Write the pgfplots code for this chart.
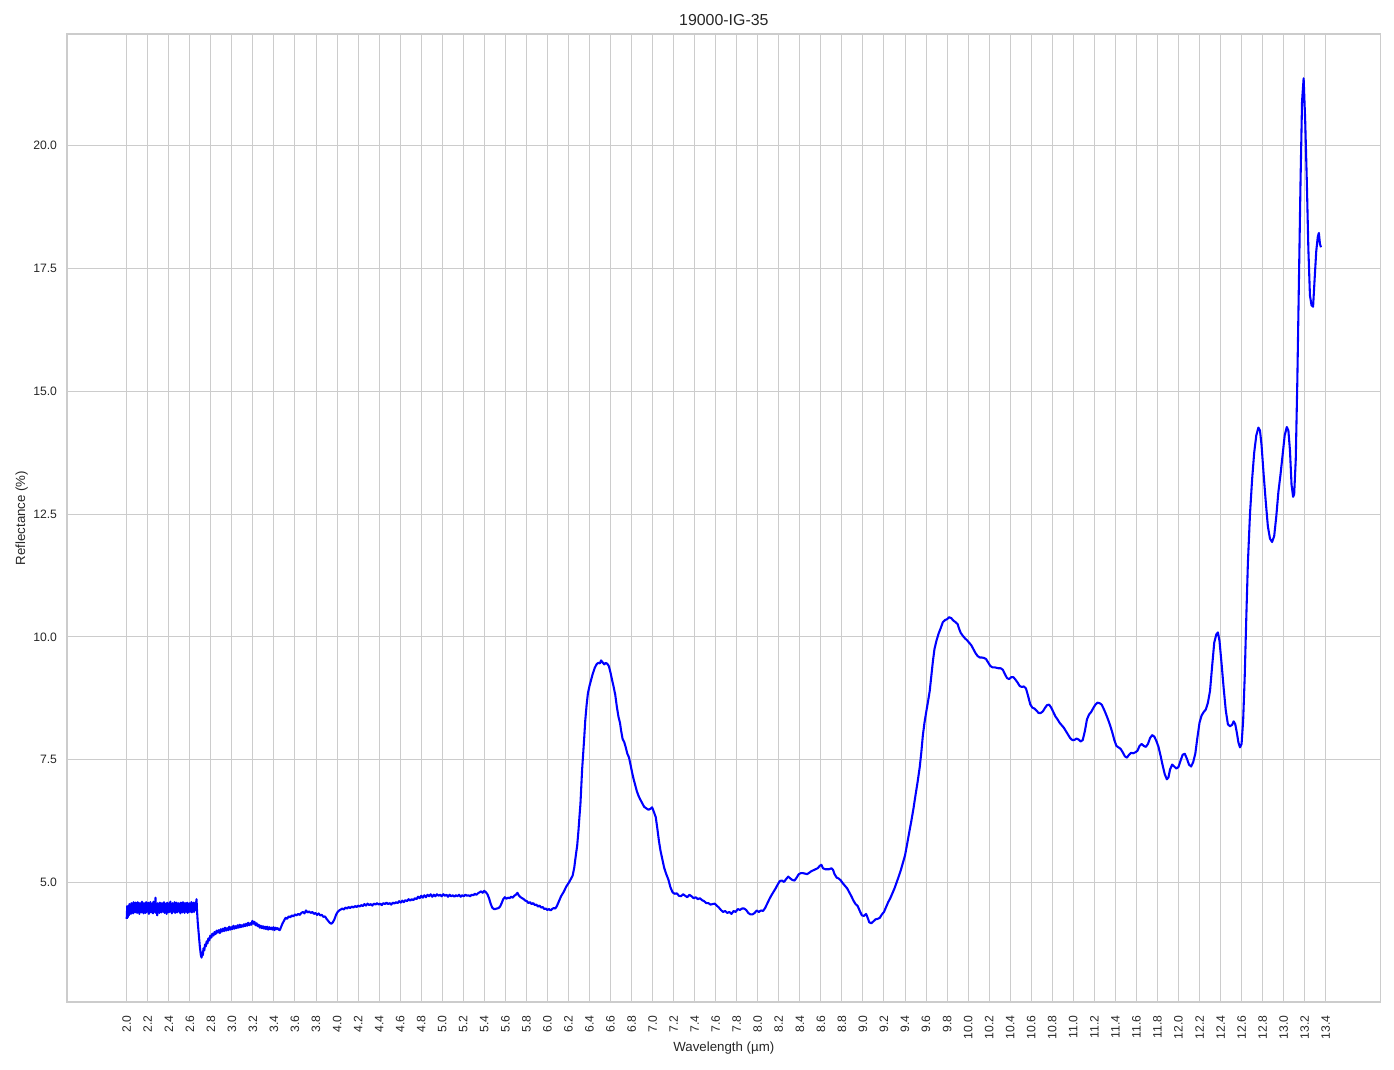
\documentclass[border=0pt]{standalone}
\usepackage{pgfplots}
\pgfplotsset{compat=1.18}
\usepackage{fontspec}
\setmainfont{Liberation Sans}
\definecolor{gridc}{HTML}{CCCCCC}
\definecolor{txt}{HTML}{262626}
\begin{document}
\begin{tikzpicture}
\begin{axis}[
  name=ax,
  scale only axis,
  width=949.4pt, height=699.6pt,
  xmin=1.432, xmax=13.923, ymin=2.565, ymax=22.27,
  axis line style={draw=gridc, line width=1pt},
  grid=major,
  major grid style={draw=gridc, line width=0.72pt},
  major tick length=0pt,
  tick style={draw=none},
  xtick={2.0,2.2,2.4,2.6,2.8,3.0,3.2,3.4,3.6,3.8,4.0,4.2,4.4,4.6,4.8,5.0,5.2,5.4,5.6,5.8,6.0,6.2,6.4,6.6,6.8,7.0,7.2,7.4,7.6,7.8,8.0,8.2,8.4,8.6,8.8,9.0,9.2,9.4,9.6,9.8,10.0,10.2,10.4,10.6,10.8,11.0,11.2,11.4,11.6,11.8,12.0,12.2,12.4,12.6,12.8,13.0,13.2,13.4},
  ytick={5,7.5,10,12.5,15,17.5,20},
  /pgf/number format/assume math mode=true,
  /pgf/number format/fixed,
  /pgf/number format/fixed zerofill,
  /pgf/number format/precision=1,
  ticklabel style={font=\fontsize{8.8}{10}\selectfont, text=txt, inner sep=0pt},
  xticklabel style={rotate=90, anchor=east},
  xticklabel shift=9.5pt,
  yticklabel shift=7pt,
  title={19000-IG-35},
  title style={at={(axis description cs:0.5,1.0)}, anchor=base, inner sep=0pt, font=\fontsize{11.5}{13}\selectfont, text=txt},
  xlabel={Wavelength (µm)},
  xlabel style={at={(axis description cs:0.5,-0.0472)}, anchor=center, inner sep=0pt, font=\fontsize{9.6}{11}\selectfont, text=txt},
  ylabel={Reflectance (\%)},
  ylabel style={at={(axis description cs:-0.0345,0.5)}, anchor=center, rotate=0, inner sep=0pt, font=\fontsize{9.6}{11}\selectfont, text=txt},
]
\addplot[color={rgb,255:red,0;green,0;blue,255}, line width=1.5pt, line join=round, mark=none] table {
x y
2.000 4.26
2.005 4.52
2.010 4.29
2.015 4.50
2.020 4.33
2.025 4.56
2.030 4.38
2.035 4.54
2.040 4.36
2.045 4.58
2.050 4.40
2.055 4.55
2.060 4.37
2.065 4.60
2.070 4.41
2.075 4.56
2.080 4.39
2.085 4.59
2.090 4.42
2.095 4.55
2.100 4.38
2.105 4.60
2.110 4.40
2.115 4.57
2.120 4.36
2.125 4.58
2.130 4.43
2.135 4.56
2.140 4.39
2.145 4.61
2.150 4.41
2.155 4.55
2.160 4.37
2.165 4.58
2.170 4.42
2.175 4.57
2.180 4.38
2.185 4.60
2.190 4.40
2.195 4.56
2.200 4.43
2.205 4.59
2.210 4.36
2.215 4.57
2.220 4.41
2.225 4.60
2.230 4.39
2.235 4.55
2.240 4.42
2.245 4.58
2.250 4.37
2.255 4.61
2.260 4.40
2.265 4.57
2.270 4.45
2.274 4.69
2.278 4.38
2.285 4.56
2.290 4.33
2.295 4.58
2.300 4.41
2.305 4.55
2.310 4.38
2.315 4.59
2.320 4.42
2.325 4.56
2.330 4.39
2.335 4.58
2.340 4.43
2.345 4.55
2.350 4.40
2.355 4.60
2.360 4.38
2.365 4.56
2.370 4.42
2.375 4.57
2.380 4.36
2.385 4.59
2.390 4.41
2.395 4.55
2.400 4.39
2.405 4.58
2.410 4.43
2.415 4.61
2.420 4.40
2.425 4.56
2.430 4.37
2.435 4.58
2.440 4.42
2.445 4.55
2.450 4.40
2.455 4.60
2.460 4.38
2.465 4.57
2.470 4.42
2.475 4.59
2.480 4.39
2.485 4.56
2.490 4.43
2.495 4.58
2.500 4.40
2.505 4.55
2.510 4.37
2.515 4.59
2.520 4.42
2.525 4.57
2.530 4.39
2.535 4.60
2.540 4.41
2.545 4.56
2.550 4.38
2.555 4.58
2.560 4.43
2.565 4.55
2.570 4.40
2.575 4.59
2.580 4.38
2.585 4.56
2.590 4.42
2.595 4.58
2.600 4.40
2.605 4.55
2.610 4.43
2.615 4.60
2.620 4.39
2.625 4.57
2.630 4.42
2.635 4.59
2.640 4.40
2.645 4.56
2.650 4.43
2.655 4.60
2.660 4.45
2.664 4.66
2.668 4.45
2.675 4.20
2.685 3.95
2.695 3.70
2.705 3.52
2.712 3.47
2.718 3.58
2.724 3.52
2.730 3.66
2.738 3.62
2.745 3.74
2.752 3.70
2.760 3.80
2.768 3.76
2.776 3.86
2.785 3.82
2.795 3.92
2.805 3.88
2.815 3.96
2.825 3.92
2.835 3.99
2.845 3.95
2.855 4.02
2.865 3.98
2.875 4.03
2.885 3.97
2.895 4.05
2.905 4.00
2.915 4.06
2.925 4.01
2.935 4.08
2.945 4.02
2.955 4.07
2.965 4.03
2.975 4.10
2.985 4.04
2.995 4.09
3.005 4.05
3.015 4.12
3.025 4.06
3.035 4.11
3.045 4.07
3.055 4.13
3.065 4.08
3.075 4.14
3.085 4.09
3.095 4.13
3.105 4.10
3.115 4.15
3.125 4.11
3.135 4.16
3.145 4.12
3.155 4.18
3.165 4.13
3.175 4.17
3.185 4.14
3.195 4.22
3.205 4.16
3.215 4.20
3.225 4.13
3.235 4.17
3.245 4.11
3.255 4.14
3.265 4.08
3.275 4.12
3.285 4.07
3.295 4.11
3.305 4.06
3.315 4.10
3.325 4.05
3.335 4.10
3.345 4.04
3.355 4.09
3.365 4.05
3.375 4.08
3.385 4.04
3.395 4.09
3.405 4.03
3.415 4.08
3.425 4.05
3.435 4.07
3.445 4.04
3.455 4.03
3.465 4.08
3.480 4.16
3.495 4.22
3.510 4.28
3.525 4.26
3.540 4.31
3.555 4.29
3.570 4.33
3.585 4.31
3.600 4.35
3.615 4.33
3.630 4.36
3.645 4.34
3.660 4.38
3.675 4.40
3.690 4.37
3.705 4.43
3.720 4.39
3.735 4.41
3.750 4.38
3.765 4.40
3.780 4.36
3.795 4.38
3.810 4.34
3.825 4.37
3.840 4.33
3.855 4.34
3.870 4.30
3.885 4.31
3.900 4.26
3.915 4.22
3.930 4.18
3.945 4.16
3.960 4.19
3.975 4.25
3.990 4.34
4.005 4.40
4.020 4.43
4.035 4.45
4.050 4.47
4.065 4.45
4.080 4.49
4.095 4.47
4.110 4.50
4.125 4.48
4.140 4.51
4.155 4.49
4.170 4.52
4.185 4.50
4.200 4.53
4.215 4.51
4.230 4.54
4.245 4.52
4.260 4.56
4.275 4.53
4.290 4.57
4.305 4.54
4.320 4.56
4.335 4.53
4.350 4.57
4.365 4.55
4.380 4.58
4.395 4.55
4.410 4.57
4.425 4.54
4.440 4.58
4.455 4.56
4.470 4.59
4.485 4.56
4.500 4.58
4.515 4.55
4.530 4.59
4.545 4.57
4.560 4.60
4.575 4.58
4.590 4.62
4.605 4.59
4.620 4.63
4.635 4.60
4.650 4.64
4.665 4.62
4.680 4.66
4.695 4.63
4.710 4.66
4.725 4.64
4.740 4.68
4.755 4.66
4.770 4.71
4.785 4.68
4.800 4.73
4.815 4.69
4.830 4.74
4.845 4.70
4.860 4.75
4.875 4.72
4.890 4.76
4.905 4.71
4.920 4.75
4.935 4.72
4.950 4.76
4.965 4.73
4.980 4.75
4.995 4.72
5.010 4.76
5.025 4.73
5.040 4.75
5.055 4.71
5.070 4.75
5.085 4.72
5.100 4.74
5.115 4.71
5.130 4.74
5.145 4.72
5.160 4.75
5.175 4.71
5.190 4.74
5.205 4.72
5.220 4.75
5.235 4.73
5.250 4.74
5.265 4.72
5.280 4.75
5.295 4.74
5.310 4.77
5.325 4.75
5.340 4.78
5.355 4.80
5.370 4.82
5.385 4.79
5.400 4.83
5.415 4.80
5.430 4.76
5.445 4.68
5.460 4.57
5.475 4.49
5.490 4.46
5.505 4.46
5.520 4.47
5.535 4.48
5.550 4.51
5.565 4.58
5.580 4.66
5.595 4.70
5.610 4.67
5.625 4.69
5.640 4.68
5.655 4.71
5.670 4.69
5.685 4.73
5.700 4.75
5.715 4.79
5.730 4.73
5.745 4.70
5.760 4.68
5.775 4.66
5.790 4.63
5.805 4.62
5.820 4.58
5.835 4.60
5.850 4.56
5.865 4.58
5.880 4.54
5.895 4.55
5.910 4.51
5.925 4.53
5.940 4.49
5.955 4.50
5.970 4.46
5.985 4.47
6.000 4.44
6.015 4.46
6.030 4.43
6.045 4.46
6.060 4.48
6.075 4.47
6.090 4.52
6.110 4.62
6.130 4.72
6.155 4.81
6.180 4.92
6.205 5.00
6.225 5.08
6.240 5.14
6.255 5.30
6.270 5.55
6.283 5.75
6.295 6.05
6.305 6.35
6.314 6.60
6.322 6.95
6.330 7.30
6.340 7.62
6.350 7.95
6.360 8.30
6.372 8.60
6.385 8.85
6.400 9.00
6.415 9.12
6.430 9.24
6.450 9.37
6.470 9.45
6.485 9.47
6.500 9.46
6.510 9.52
6.525 9.48
6.540 9.44
6.555 9.47
6.570 9.45
6.585 9.40
6.600 9.27
6.615 9.12
6.630 8.98
6.645 8.82
6.660 8.58
6.675 8.38
6.690 8.25
6.700 8.10
6.715 7.92
6.730 7.86
6.745 7.75
6.760 7.62
6.775 7.55
6.790 7.40
6.805 7.24
6.820 7.10
6.835 6.98
6.850 6.86
6.865 6.77
6.880 6.70
6.900 6.62
6.920 6.54
6.940 6.51
6.960 6.48
6.980 6.50
6.995 6.53
7.010 6.45
7.030 6.33
7.045 6.10
7.060 5.85
7.075 5.65
7.090 5.50
7.110 5.30
7.130 5.17
7.150 5.06
7.170 4.90
7.190 4.80
7.210 4.77
7.230 4.78
7.250 4.73
7.270 4.72
7.290 4.76
7.310 4.73
7.330 4.70
7.350 4.75
7.370 4.72
7.390 4.68
7.410 4.70
7.430 4.66
7.450 4.68
7.470 4.64
7.490 4.62
7.510 4.58
7.530 4.58
7.550 4.55
7.570 4.56
7.590 4.57
7.610 4.53
7.630 4.49
7.650 4.44
7.670 4.40
7.690 4.42
7.710 4.38
7.730 4.40
7.750 4.36
7.770 4.42
7.790 4.40
7.810 4.46
7.830 4.44
7.850 4.47
7.870 4.47
7.890 4.44
7.910 4.38
7.930 4.35
7.950 4.35
7.970 4.38
7.990 4.43
8.010 4.40
8.030 4.43
8.050 4.42
8.070 4.48
8.090 4.57
8.110 4.66
8.130 4.74
8.150 4.81
8.170 4.88
8.190 4.96
8.210 5.03
8.230 5.04
8.250 5.01
8.270 5.07
8.290 5.12
8.310 5.08
8.330 5.05
8.350 5.04
8.370 5.10
8.390 5.17
8.410 5.19
8.430 5.19
8.450 5.18
8.470 5.17
8.490 5.20
8.510 5.23
8.530 5.25
8.550 5.27
8.570 5.29
8.590 5.34
8.605 5.36
8.620 5.29
8.640 5.27
8.660 5.27
8.680 5.27
8.700 5.29
8.715 5.26
8.730 5.17
8.750 5.10
8.770 5.08
8.790 5.04
8.810 4.98
8.830 4.93
8.850 4.88
8.870 4.80
8.890 4.72
8.910 4.63
8.930 4.56
8.950 4.52
8.970 4.42
8.990 4.33
9.010 4.32
9.030 4.36
9.045 4.28
9.060 4.19
9.080 4.17
9.100 4.21
9.120 4.25
9.140 4.26
9.160 4.28
9.180 4.35
9.200 4.40
9.220 4.50
9.240 4.60
9.260 4.68
9.280 4.78
9.300 4.88
9.320 5.00
9.340 5.12
9.360 5.25
9.380 5.40
9.400 5.55
9.420 5.78
9.440 6.02
9.460 6.25
9.480 6.50
9.500 6.78
9.520 7.05
9.540 7.35
9.555 7.65
9.570 8.00
9.585 8.25
9.600 8.45
9.620 8.70
9.635 8.90
9.650 9.20
9.665 9.50
9.680 9.75
9.700 9.93
9.720 10.07
9.740 10.18
9.760 10.30
9.780 10.34
9.800 10.36
9.820 10.40
9.840 10.38
9.860 10.33
9.880 10.30
9.900 10.26
9.915 10.16
9.930 10.08
9.950 10.02
9.970 9.97
9.990 9.93
10.010 9.88
10.030 9.83
10.050 9.75
10.070 9.67
10.090 9.61
10.110 9.58
10.130 9.58
10.150 9.57
10.170 9.55
10.190 9.48
10.210 9.41
10.230 9.38
10.250 9.38
10.270 9.37
10.290 9.36
10.310 9.36
10.330 9.33
10.350 9.24
10.370 9.16
10.390 9.14
10.410 9.18
10.430 9.18
10.450 9.13
10.470 9.07
10.490 9.00
10.510 8.98
10.530 8.99
10.550 8.95
10.570 8.80
10.590 8.63
10.610 8.56
10.630 8.54
10.650 8.50
10.670 8.45
10.690 8.45
10.710 8.48
10.730 8.55
10.750 8.61
10.770 8.62
10.790 8.56
10.810 8.47
10.830 8.38
10.850 8.32
10.870 8.25
10.890 8.20
10.910 8.15
10.930 8.08
10.950 8.01
10.970 7.94
10.990 7.90
11.010 7.90
11.030 7.93
11.050 7.91
11.070 7.87
11.090 7.90
11.110 8.08
11.130 8.32
11.150 8.42
11.170 8.47
11.190 8.55
11.210 8.62
11.230 8.66
11.250 8.65
11.270 8.62
11.290 8.53
11.310 8.43
11.330 8.32
11.350 8.20
11.370 8.06
11.390 7.90
11.410 7.78
11.430 7.75
11.450 7.72
11.470 7.65
11.490 7.57
11.510 7.54
11.530 7.60
11.550 7.64
11.570 7.63
11.590 7.65
11.610 7.68
11.630 7.78
11.650 7.82
11.670 7.78
11.690 7.76
11.710 7.82
11.730 7.94
11.750 8.00
11.770 7.97
11.790 7.88
11.810 7.76
11.830 7.58
11.850 7.38
11.870 7.20
11.890 7.10
11.905 7.14
11.920 7.30
11.940 7.40
11.960 7.36
11.980 7.32
12.000 7.35
12.020 7.48
12.040 7.60
12.060 7.62
12.080 7.52
12.100 7.40
12.120 7.36
12.140 7.45
12.160 7.62
12.180 7.95
12.200 8.25
12.220 8.40
12.240 8.47
12.260 8.52
12.280 8.66
12.300 8.90
12.320 9.40
12.340 9.88
12.360 10.05
12.375 10.09
12.390 9.92
12.410 9.45
12.430 8.95
12.450 8.50
12.470 8.22
12.490 8.18
12.510 8.21
12.525 8.28
12.540 8.22
12.555 8.05
12.570 7.85
12.585 7.75
12.600 7.82
12.615 8.30
12.630 9.20
12.645 10.40
12.660 11.50
12.680 12.50
12.700 13.20
12.720 13.75
12.740 14.10
12.760 14.26
12.775 14.20
12.790 13.90
12.810 13.30
12.830 12.75
12.850 12.25
12.870 12.00
12.890 11.93
12.910 12.05
12.930 12.45
12.950 12.95
12.970 13.30
12.990 13.70
13.010 14.10
13.030 14.27
13.045 14.20
13.060 13.80
13.075 13.10
13.090 12.85
13.100 12.90
13.115 13.60
13.130 15.20
13.145 17.20
13.160 19.20
13.175 20.90
13.190 21.37
13.205 20.50
13.220 19.30
13.235 17.90
13.250 16.95
13.265 16.75
13.280 16.72
13.295 17.30
13.310 17.85
13.325 18.15
13.335 18.22
13.345 18.00
13.355 17.93
};
\end{axis}
\path (ax.south west) ++(-48.4pt,-48.4pt);
\path (ax.north east) ++(9.6pt,24.6pt);
\end{tikzpicture}
\end{document}
